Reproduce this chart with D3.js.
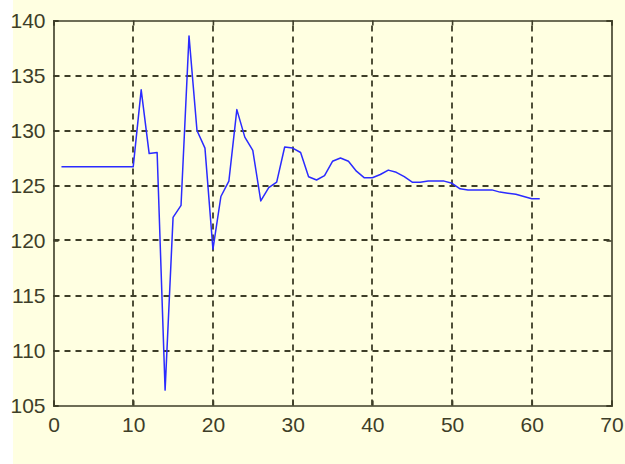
<!DOCTYPE html>
<html>
<head>
<meta charset="utf-8">
<script src="https://cdn.jsdelivr.net/npm/d3@7/dist/d3.min.js"></script>
<style>
  html, body { margin: 0; padding: 0; background: #ffffff; }
  svg { display: block; }
</style>
</head>
<body>
<svg id="chart" width="625" height="464"></svg>
<script>
// Sample index and measured response
const xValues = [
  1, 2, 3, 4, 5, 6, 7, 8, 9, 10,
  11, 12, 13, 14, 15, 16, 17, 18, 19, 20,
  21, 22, 23, 24, 25, 26, 27, 28, 29, 30,
  31, 32, 33, 34, 35, 36, 37, 38, 39, 40,
  41, 42, 43, 44, 45, 46, 47, 48, 49, 50,
  51, 52, 53, 54, 55, 56, 57, 58, 59, 60, 61
];
const yValues = [
  126.7, 126.7, 126.7, 126.7, 126.7, 126.7, 126.7, 126.7, 126.7, 126.7,
  133.7, 127.9, 128.0, 106.4, 122.1, 123.2, 138.6, 130.0, 128.4, 119.2,
  124.0, 125.4, 131.9, 129.4, 128.2, 123.6, 124.8, 125.3, 128.5, 128.4,
  128.0, 125.8, 125.5, 125.9, 127.2, 127.5, 127.2, 126.3, 125.7, 125.7,
  126.0, 126.4, 126.2, 125.8, 125.3, 125.3, 125.4, 125.4, 125.4, 125.2,
  124.7, 124.6, 124.6, 124.6, 124.6, 124.4, 124.3, 124.2, 124.0, 123.8, 123.8
];
const xTicks = [0, 10, 20, 30, 40, 50, 60, 70];
const yTicks = [105, 110, 115, 120, 125, 130, 135, 140];

const svg = d3.select("#chart");
const W = 625, H = 464;
const plot = { left: 53.5, top: 20.5, right: 611.5, bottom: 405.5 };

const bg = "#ffffe1";
const ink = "#3e3e28";

// Figure background with the narrow white band on the left edge
svg.append("rect").attr("x", 13).attr("y", 0).attr("width", W - 13).attr("height", H).attr("fill", bg);

const x = d3.scaleLinear().domain([0, 70]).range([plot.left, plot.right]);
const y = d3.scaleLinear().domain([105, 140]).range([plot.bottom, plot.top]);

// Dashed grid
const grid = svg.append("g").attr("stroke", ink).attr("stroke-width", 1.8)
  .attr("stroke-dasharray", "6,5").attr("fill", "none");
grid.selectAll("line.v").data(xTicks.slice(1, -1)).join("line")
  .attr("x1", d => Math.round(x(d))).attr("x2", d => Math.round(x(d)))
  .attr("y1", plot.bottom).attr("y2", plot.top);
grid.selectAll("line.h").data(yTicks.slice(1, -1)).join("line")
  .attr("y1", d => Math.round(y(d))).attr("y2", d => Math.round(y(d)))
  .attr("x1", plot.left).attr("x2", plot.right);

// Data line
const line = d3.line().x((d, i) => x(xValues[i])).y(d => y(d));
svg.append("path").datum(yValues)
  .attr("d", line)
  .attr("fill", "none")
  .attr("stroke", "#2b2bff")
  .attr("stroke-width", 1.5)
  .attr("stroke-linejoin", "round");

// Axes (ticks point inward, box on all four sides)
const fontCss = "'Liberation Sans', Arial, sans-serif";
const bottomAxis = d3.axisBottom(x).tickValues(xTicks).tickSize(-5).tickPadding(12).tickFormat(d3.format("d"));
const leftAxis = d3.axisLeft(y).tickValues(yTicks).tickSize(-5).tickPadding(8).tickFormat(d3.format("d"));
const topAxis = d3.axisTop(x).tickValues(xTicks).tickSize(-5).tickFormat("");
const rightAxis = d3.axisRight(y).tickValues(yTicks).tickSize(-5).tickFormat("");

function style(g) {
  g.select(".domain").attr("stroke", ink).attr("stroke-width", 1.6);
  g.selectAll(".tick line").attr("stroke", ink).attr("stroke-width", 1.6);
  g.selectAll(".tick text").attr("fill", ink).style("font-family", fontCss).style("font-size", "21px");
}

svg.append("g").attr("transform", `translate(0,${plot.bottom})`).call(bottomAxis).call(style);
svg.append("g").attr("transform", `translate(${plot.left},0)`).call(leftAxis).call(style);
svg.append("g").attr("transform", `translate(0,${plot.top})`).call(topAxis).call(style);
svg.append("g").attr("transform", `translate(${plot.right},0)`).call(rightAxis).call(style);
</script>
</body>
</html>
